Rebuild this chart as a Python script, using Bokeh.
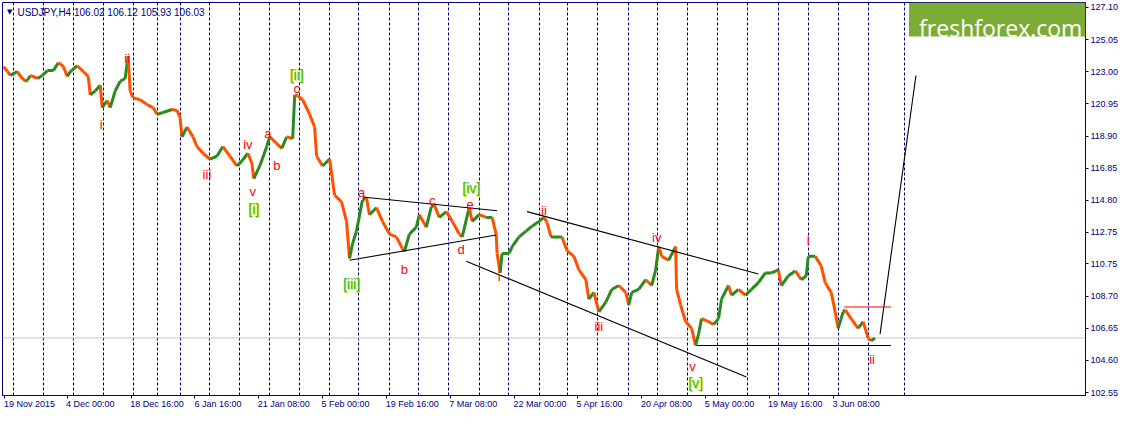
from bokeh.plotting import figure
from bokeh.models import (Range1d, FixedTicker, Span, Label, ColumnDataSource, BoxAnnotation,
                          PrintfTickFormatter, LinearAxis)
from bokeh.core.properties import value
from bokeh.embed import file_html
from bokeh.resources import INLINE

# ---------------- data ----------------
header_text = "USDJPY,H4  106.02 106.12 105.93 106.03"
last_price = 106.03

bar_idx = [0, 4, 7, 10, 14, 17, 22, 24, 27, 34, 39, 44, 50, 55, 57, 60, 64, 67, 74, 80,
           85, 87, 92, 97, 99, 104, 107, 112, 117, 122, 125, 127, 130, 137, 144, 150, 154, 160, 169, 174,
           177, 179, 184, 190, 194, 200, 207, 214, 220, 227, 234, 239, 245, 249, 251, 257, 264, 267, 274, 279,
           284, 290, 292, 295, 300, 307, 312, 314, 320, 327, 332, 339, 344, 347, 350, 354, 360, 364, 367, 374,
           380, 387, 394, 400, 402, 407, 414, 417, 424, 429, 432, 437, 444, 450, 457, 460, 467, 470, 477, 484,
           490, 494, 495, 498, 500, 507, 510, 517, 524, 530, 537, 542, 545, 549, 554, 560, 565, 572, 577, 584,
           587, 592, 597, 604, 610, 617, 624, 627, 630, 637, 644, 650, 654, 657, 660, 667, 674, 675, 679, 684,
           690, 694, 697, 700, 707, 712, 717, 720, 727, 730, 737, 744, 750, 757, 764, 770, 777, 780, 787, 794,
           800, 805, 807, 814, 820, 824, 830, 834, 837, 842, 844, 850, 857, 862, 867, 870, 874]
close = [123.32, 123.01, 122.76, 122.88, 123.01, 122.70, 122.39, 122.45, 122.76, 122.57,
         122.76, 123.07, 123.07, 123.57, 123.50, 123.32, 122.70, 123.01, 123.38, 123.01,
         122.70, 121.52, 121.77, 122.14, 120.71, 121.15, 120.71, 121.77, 122.39, 122.57,
         124.00, 121.77, 121.33, 121.21, 120.90, 120.71, 120.28, 120.40, 120.59, 120.53,
         120.09, 118.85, 119.47, 118.85, 118.23, 117.80, 117.43, 117.61, 118.23, 117.61,
         116.99, 117.30, 117.80, 117.18, 116.19, 116.99, 118.23, 118.85, 118.42, 118.11,
         118.85, 118.73, 121.52, 121.46, 121.21, 120.28, 119.47, 117.61, 116.99, 117.43,
         115.13, 114.70, 113.46, 111.10, 112.03, 112.84, 114.82, 114.95, 113.89, 114.33,
         113.46, 112.65, 112.47, 111.72, 111.54, 112.65, 113.09, 113.89, 113.09, 114.39,
         114.51, 113.71, 114.08, 113.46, 112.65, 112.47, 114.33, 113.46, 113.89, 113.71,
         113.71, 112.65, 111.41, 110.17, 111.41, 111.41, 111.85, 112.47, 112.84, 113.15,
         113.46, 113.71, 113.40, 112.47, 112.47, 112.47, 111.60, 111.23, 110.36, 109.74,
         108.50, 108.93, 107.69, 108.31, 109.12, 109.37, 108.93, 108.13, 108.93, 109.12,
         109.74, 109.37, 110.36, 111.85, 111.23, 110.98, 111.85, 109.12, 108.13, 107.07,
         106.64, 105.55, 106.27, 107.26, 107.07, 106.89, 107.26, 108.50, 109.37, 108.75,
         109.12, 108.75, 109.12, 109.55, 110.17, 110.17, 110.36, 109.37, 109.99, 110.30,
         109.74, 109.99, 111.23, 111.23, 110.61, 109.55, 108.93, 107.69, 106.64, 107.69,
         107.82, 107.26, 106.64, 107.07, 106.02, 105.85, 106.03]

price_ticks = [127.10, 125.05, 123.00, 120.95, 118.90, 116.85, 114.80, 112.75,
               110.75, 108.70, 106.65, 104.60, 102.55]
date_tick_bars = [1, 64, 128, 192, 256, 320, 384, 448, 512, 576, 640, 704, 768, 832]
date_tick_labels = ["19 Nov 2015", "4 Dec 00:00", "18 Dec 16:00", "6 Jan 16:00", "21 Jan 08:00",
                    "5 Feb 00:00", "19 Feb 16:00", "7 Mar 08:00", "22 Mar 00:00", "5 Apr 16:00",
                    "20 Apr 08:00", "5 May 00:00", "19 May 16:00", "3 Jun 08:00"]
grid_bars = [10, 40, 70, 100, 130, 154, 177, 207, 237, 267, 297, 327, 356, 387, 416, 446,
             477, 506, 537, 566, 596, 627, 656, 686, 716, 746, 777, 807, 837, 867, 903]

# wave labels: minor (red) and major (green, bracketed)
minor_text = ["ii", "i", "c", "a", "iv", "b", "iii", "v", "a", "c", "e", "d", "b",
              "ii", "i", "iv", "iii", "i", "v", "ii"]
minor_bar = [124, 98, 294, 265, 245, 274, 204, 250, 359, 430, 468, 459, 402,
             542, 497, 655, 597, 807, 691, 871]
minor_price = [123.81, 119.66, 121.95, 119.04, 118.36, 116.99, 116.44, 115.38, 115.32, 114.76,
               114.51, 111.66, 110.42, 114.14, 109.93, 112.41, 106.76, 112.22, 104.22, 104.66]
major_text = ["[ii]", "[i]", "[iv]", "[iii]", "[v]"]
major_bar = [294, 251, 469, 349, 694]
major_price = [122.82, 114.27, 115.57, 109.49, 103.17]

# analyst lines (bar0, price0, bar1, price1)
trend_x0 = [360, 347, 525, 464, 695, 879]
trend_y0 = [115.01, 110.98, 114.08, 110.92, 105.55, 106.27]
trend_x1 = [495, 494, 757, 745, 890, 915]
trend_y1 = [114.14, 112.59, 110.11, 103.54, 105.55, 122.76]
target_bar0, target_bar1, target_price = 843, 890, 108.00

# ---------------- styling ----------------
NAVY = "#000080"
UP = "#2a8a1e"
DOWN = "#ff5000"
AXIS_FONT = "Liberation Sans"
AXIS_FS = 9

p = figure(width=1121, height=411, output_backend="svg", toolbar_location=None,
           x_range=Range1d(-1, 1085), y_range=Range1d(102.36, 127.41),
           y_axis_location="right", min_border_left=2, min_border_top=2,
           min_border_right=33, min_border_bottom=16,
           background_fill_color="white", border_fill_color="white")
p.outline_line_color = NAVY
p.outline_line_width = 1

# grid
p.ygrid.visible = False
p.xgrid.ticker = FixedTicker(ticks=grid_bars)
p.xgrid.grid_line_color = NAVY
p.xgrid.grid_line_dash = "3 2"
p.xgrid.grid_line_width = 1

# axes
for ax in (p.xaxis[0], p.yaxis[0]):
    ax.axis_line_color = NAVY
    ax.major_tick_line_color = NAVY
    ax.minor_tick_line_color = None
    ax.major_tick_in = 0
    ax.major_tick_out = 3
    ax.major_label_text_color = NAVY
    ax.major_label_text_font = AXIS_FONT
    ax.major_label_text_font_size = f"{AXIS_FS}px"
    ax.major_label_standoff = 2

p.yaxis.ticker = FixedTicker(ticks=price_ticks)
p.yaxis.formatter = PrintfTickFormatter(format="%.2f")

# bottom axis: tick marks at the bar, labels start at the tick (left aligned)
p.xaxis.ticker = FixedTicker(ticks=date_tick_bars)
p.xaxis.major_label_overrides = {b: "" for b in date_tick_bars}
p.xaxis.major_label_text_font_size = "1px"
p.xaxis.major_label_standoff = 0
p.xaxis.major_tick_out = 3

CHAR_EM = {" ": 0.278, ":": 0.278, "1": 0.556, "N": 0.722, "D": 0.722, "J": 0.5, "F": 0.611,
           "M": 0.833, "A": 0.667, "o": 0.556, "v": 0.5, "e": 0.556, "c": 0.5, "a": 0.556,
           "n": 0.556, "b": 0.556, "r": 0.333, "p": 0.556, "y": 0.5, "u": 0.556}
def label_width(t):
    return sum(CHAR_EM.get(ch, 0.556) for ch in t) * AXIS_FS

label_centers = [int(round(b - 1 + label_width(t) / 2)) for b, t in zip(date_tick_bars, date_tick_labels)]
lab_axis = LinearAxis(ticker=FixedTicker(ticks=label_centers),
                      major_label_overrides={c: t for c, t in zip(label_centers, date_tick_labels)},
                      axis_line_color=None, major_tick_line_color=None, minor_tick_line_color=None,
                      major_tick_in=0, major_tick_out=0, major_label_standoff=0,
                      major_label_text_color=NAVY, major_label_text_font=AXIS_FONT,
                      major_label_text_font_size=f"{AXIS_FS}px")
p.add_layout(lab_axis, "below")

# current price line
p.add_layout(Span(location=last_price, dimension="width", line_color="#c8c8c8",
                  line_width=1, level="underlay"))

# price path
seg_col = [UP if close[i + 1] >= close[i] else DOWN for i in range(len(close) - 1)]
src = ColumnDataSource(dict(x0=bar_idx[:-1], y0=close[:-1], x1=bar_idx[1:], y1=close[1:], c=seg_col))
p.segment("x0", "y0", "x1", "y1", source=src, line_color="c", line_width=3)

# analyst lines
p.segment(trend_x0, trend_y0, trend_x1, trend_y1, line_color="black", line_width=1.1)
p.segment([target_bar0], [target_price], [target_bar1], [target_price], line_color="#ff0000", line_width=1.1)

# wave labels
p.text(minor_bar, minor_price, text=minor_text, text_color="#ff0000",
       text_font=value("Liberation Sans"), text_font_size="13px",
       text_align="center", text_baseline="middle")
p.text(major_bar, major_price, text=major_text, text_color="#e6e600",
       text_font=value("Liberation Sans"), text_font_size="14px",
       text_align="center", text_baseline="middle", x_offset=1, y_offset=1)
p.text(major_bar, major_price, text=major_text, text_color="#33bb22",
       text_font=value("Liberation Sans"), text_font_size="14px",
       text_align="center", text_baseline="middle")

# header
p.add_layout(Label(x=3.5, y=126.80, text="\u25BC", text_color=NAVY, text_font_size="7px",
                   text_baseline="middle", text_font="DejaVu Sans"))
p.add_layout(Label(x=14, y=126.80, text=header_text, text_color=NAVY, text_font_size="10px",
                   text_baseline="middle", text_font=AXIS_FONT))

# logo
p.add_layout(BoxAnnotation(left=908, bottom=125.24, fill_color="#7cac36",
                           fill_alpha=1.0, line_color=None))
p.add_layout(Label(x=1000, y=125.80, text="freshforex.com", text_color="white",
                   text_font="Open Sans", text_font_size="23px", text_align="center",
                   text_baseline="alphabetic"))

# last price tag on axis
p.add_layout(Label(x=1089, y=last_price, text="106.03", text_color="white", text_font=AXIS_FONT,
                   text_font_size="9px", text_baseline="middle", background_fill_color=NAVY,
                   background_fill_alpha=1.0, padding=2))

open("out.html", "w").write(file_html(p, INLINE))
